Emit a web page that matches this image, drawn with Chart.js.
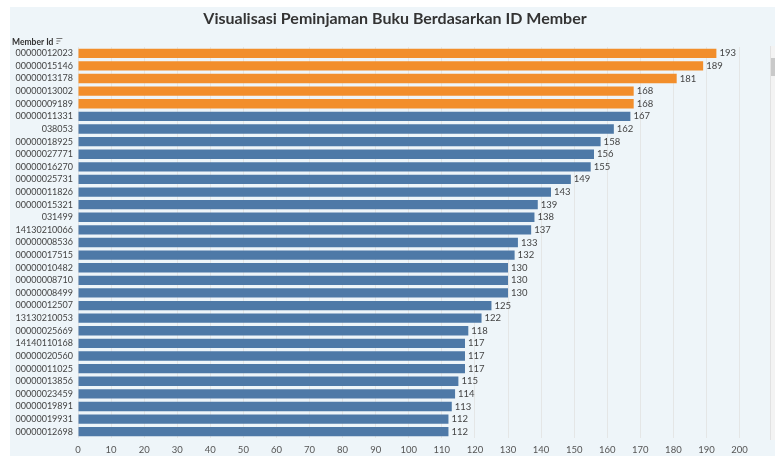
<!DOCTYPE html>
<html>
<head>
<meta charset="utf-8">
<script src="https://cdn.jsdelivr.net/npm/chart.js@4/dist/chart.umd.min.js"></script>
<style>
  body { margin: 0; background: #fff; }
  #wrap { position: relative; width: 775px; height: 456px; overflow: hidden; }
  #panel { position: absolute; left: 10px; top: 7px; width: 765px; height: 449px; background: #eef5f9; }
  #scroll { position: absolute; left: 770px; top: 46px; width: 5px; height: 394px; background: #f3f3f3; border-left: 1px solid #e2e2e2; }
  #thumb { position: absolute; left: 771px; top: 58px; width: 4px; height: 18px; background: #c9c9c9; }
  canvas { position: absolute; left: 0; top: 0; }
</style>
</head>
<body>
<div id="wrap">
  <div id="panel"></div>
  <div id="scroll"></div>
  <div id="thumb"></div>
  <canvas id="myChart" width="775" height="456"></canvas>
</div>
<script>
var memberIds = [
  "00000012023", "00000015146", "00000013178", "00000013002", "00000009189",
  "00000011331", "038053", "00000018925", "00000027771", "00000016270",
  "00000025731", "00000011826", "00000015321", "031499", "14130210066",
  "00000008536", "00000017515", "00000010482", "00000008710", "00000008499",
  "00000012507", "13130210053", "00000025669", "14140110168", "00000020560",
  "00000011025", "00000013856", "00000023459", "00000019891", "00000019931",
  "00000012698"
];
var jumlahPinjam = [
  193, 189, 181, 168, 168,
  167, 162, 158, 156, 155,
  149, 143, 139, 138, 137,
  133, 132, 130, 130, 130,
  125, 122, 118, 117, 117,
  117, 115, 114, 113, 112,
  112
];
var topCount = 5;
var judul = "Visualisasi Peminjaman Buku Berdasarkan ID Member";

var barColors = [];
for (var i = 0; i < jumlahPinjam.length; i++) {
  barColors.push(i < topCount ? "#f28e2b" : "#4e79a7");
}

// angka di ujung bar
var valueLabels = {
  id: "valueLabels",
  afterDatasetsDraw: function (chart) {
    var ctx = chart.ctx;
    var meta = chart.getDatasetMeta(0);
    ctx.save();
    ctx.font = "9.5px Lato";
    ctx.fillStyle = "#444";
    ctx.textBaseline = "middle";
    meta.data.forEach(function (bar, i) {
      ctx.fillText(jumlahPinjam[i], bar.x + 3, bar.y);
    });
    ctx.restore();
  },
};

// judul + header "Member Id" (judul di tengah panel, bukan tengah canvas)
var headerLabel = {
  id: "headerLabel",
  afterDraw: function (chart) {
    var ctx = chart.ctx;
    ctx.save();
    ctx.font = "bold 16px Lato";
    ctx.fillStyle = "#333";
    ctx.textAlign = "center";
    ctx.textBaseline = "middle";
    ctx.fillText(judul, 395, 19);

    ctx.textAlign = "left";
    ctx.font = "bold 8.5px Lato";
    ctx.fillText("Member Id", 12, 42);
    var w = ctx.measureText("Member Id").width;
    ctx.fillStyle = "#777";
    ctx.fillRect(12 + w + 3, 38, 6, 1);
    ctx.fillRect(12 + w + 3, 40.5, 4, 1);
    ctx.fillRect(12 + w + 3, 43, 2, 1);
    ctx.restore();
  },
};

new Chart("myChart", {
  type: "bar",
  data: {
    labels: memberIds,
    datasets: [
      {
        data: jumlahPinjam,
        backgroundColor: barColors,
        barPercentage: 0.74,
        categoryPercentage: 1,
      },
    ],
  },
  options: {
    indexAxis: "y",
    responsive: false,
    animation: false,
    layout: { padding: { left: 0, right: 9, top: 47, bottom: 0 } },
    plugins: {
      legend: { display: false },
      tooltip: { enabled: false },
    },
    scales: {
      x: {
        min: 0,
        max: 208,
        ticks: {
          stepSize: 10,
          color: "#555",
          font: { family: "Lato", size: 9.5 },
          padding: 6,
          maxRotation: 0,
          autoSkip: false,
        },
        afterBuildTicks: function (axis) {
          axis.ticks = axis.ticks.filter(function (t) { return t.value <= 200.5; });
        },
        afterFit: function (scale) { scale.height = 18; },
        grid: { color: "#e4e6e6", drawTicks: false },
        border: { display: false },
      },
      y: {
        ticks: {
          color: "#444",
          font: { family: "Lato", size: 9 },
          padding: 5,
          autoSkip: false,
        },
        afterFit: function (scale) { scale.width = 78; },
        grid: { display: false, drawTicks: false },
        border: { display: false },
      },
    },
  },
  plugins: [valueLabels, headerLabel],
});
</script>
</body>
</html>
